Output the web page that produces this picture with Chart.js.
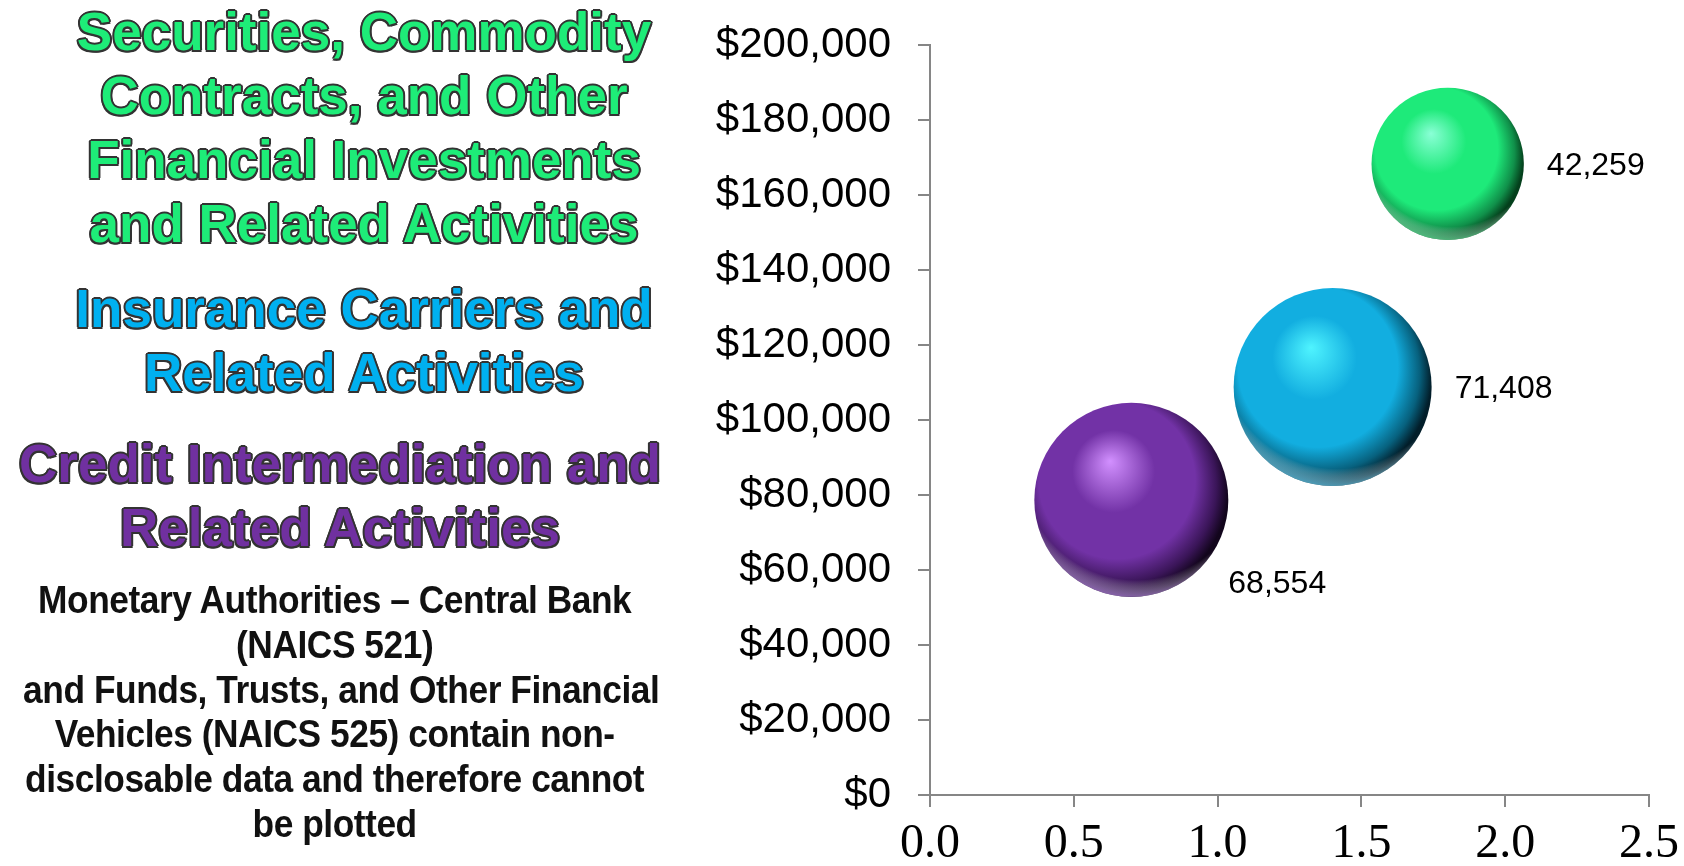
<!DOCTYPE html>
<html>
<head>
<meta charset="utf-8">
<script src="https://cdn.jsdelivr.net/npm/chart.js@4"></script>
<style>
    html, body { margin: 0; padding: 0; background: #fff; }
    body { width: 1684px; height: 866px; position: relative; overflow: hidden; }
    #chartWrap { position: absolute; left: 0; top: 0; width: 1684px; height: 866px; }
    .title {
        position: absolute;
        text-align: center;
        font-family: "Liberation Sans", Arial, sans-serif;
        font-weight: bold;
        font-size: 53px;
        line-height: 64px;
        white-space: nowrap;
        text-shadow: -2px 0 #333, 2px 0 #333, 0 -2px #333, 0 2px #333,
                     -1.5px -1.5px #333, 1.5px -1.5px #333, -1.5px 1.5px #333, 1.5px 1.5px #333;
    }
    .note {
        position: absolute;
        left: 0;
        width: 670px;
        top: 578px;
        text-align: center;
        font-family: "Liberation Sans", Arial, sans-serif;
        font-weight: bold;
        font-size: 38px;
        line-height: 44.8px;
        letter-spacing: -0.5px;
        color: #111;
        white-space: nowrap;
        transform: scaleX(0.93);
        transform-origin: 330px 0;
    }
</style>
</head>
<body>
<div id="chartWrap"><canvas id="bubbleChart"></canvas></div>

<div class="title" style="left:14px; width:700px; top:0px; color:#1eec78;">Securities, Commodity<br>Contracts, and Other<br>Financial Investments<br>and Related Activities</div>
<div class="title" style="left:14px; width:700px; top:277px; color:#00b0f0;">Insurance Carriers and<br>Related Activities</div>
<div class="title" style="left:0px; width:680px; top:432px; color:#7030a0;">Credit Intermediation and<br>Related Activities</div>
<div class="note">Monetary Authorities – Central Bank<br>(NAICS 521)<br>and Funds, Trusts, and Other Financial<br>Vehicles (NAICS 525) contain non-<br>disclosable data and therefore cannot<br>be plotted</div>

<script>
// industries, in drawing order
const industries = ['Credit Intermediation and Related Activities', 'Insurance Carriers and Related Activities', 'Securities, Commodity Contracts, and Other Financial Investments and Related Activities'];
const xValues = [0.70, 1.40, 1.80];
const wageValues = [78700, 108800, 168300];
const employment = [68554, 71408, 42259];
const yTicks = [0, 20000, 40000, 60000, 80000, 100000, 120000, 140000, 160000, 180000, 200000];
const xTicks = [0.0, 0.5, 1.0, 1.5, 2.0, 2.5];

// sphere shading per industry: highlight, base, dark, edge, rim
const shades = [
    ['#d290ff', '#7232a6', '#3a1558', '#12051c', 'rgba(170,110,230,0.85)'],
    ['#4ff4ff', '#12aee0', '#07617e', '#021e2a', 'rgba(70,200,245,0.85)'],
    ['#8affd6', '#1eea7a', '#10904a', '#04401c', 'rgba(80,245,150,0.8)']
];
const labelPlace = ['belowRight', 'right', 'right'];

const maxBubble = 99;
const maxEmp = Math.max.apply(null, employment);

function radiusFor(v) {
    return maxBubble * Math.sqrt(v / maxEmp);
}

function sphereFill(context) {
    const chart = context.chart;
    const i = context.dataIndex;
    if (!chart.chartArea || i === undefined) {
        return shades[i || 0][1];
    }
    const cx = chart.scales.x.getPixelForValue(xValues[i]);
    const cy = chart.scales.y.getPixelForValue(wageValues[i]);
    const r = radiusFor(employment[i]);
    const s = shades[i];
    const g = chart.ctx.createRadialGradient(cx - 0.22 * r, cy - 0.4 * r, 0, cx - 0.12 * r, cy - 0.12 * r, 1.12 * r);
    g.addColorStop(0, s[0]);
    g.addColorStop(0.38, s[1]);
    g.addColorStop(0.72, s[1]);
    g.addColorStop(0.9, s[2]);
    g.addColorStop(1, s[3]);
    return g;
}

// soft light along the lower rim, then the value labels
const sphereExtras = {
    id: 'sphereExtras',
    afterDatasetsDraw(chart) {
        const ctx = chart.ctx;
        const meta = chart.getDatasetMeta(0);
        meta.data.forEach(function (el, i) {
            const r = el.options.radius;
            const g = ctx.createRadialGradient(el.x + 0.05 * r, el.y - 0.35 * r, 0.9 * r, el.x + 0.05 * r, el.y - 0.35 * r, 1.4 * r);
            g.addColorStop(0, 'rgba(255,255,255,0)');
            g.addColorStop(0.55, 'rgba(255,255,255,0)');
            g.addColorStop(1, shades[i][4]);
            ctx.save();
            ctx.beginPath();
            ctx.arc(el.x, el.y, r, 0, Math.PI * 2);
            ctx.clip();
            ctx.fillStyle = g;
            ctx.fillRect(el.x - r, el.y - r, 2 * r, 2 * r);
            ctx.restore();

            ctx.save();
            ctx.fillStyle = '#000';
            ctx.font = '32px "Liberation Sans", Arial, sans-serif';
            ctx.textAlign = 'left';
            ctx.textBaseline = 'middle';
            const txt = employment[i].toLocaleString('en-US');
            if (labelPlace[i] === 'belowRight') {
                ctx.fillText(txt, el.x + r, el.y + 0.87 * r);
            } else {
                ctx.fillText(txt, el.x + r + 23, el.y + 2);
            }
            ctx.restore();
        });
    }
};

const axisGrey = '#868686';

new Chart(document.getElementById('bubbleChart'), {
    type: 'bubble',
    data: {
        datasets: [{
            label: 'Employment',
            data: xValues.map(function (x, i) {
                return { x: x, y: wageValues[i], r: radiusFor(employment[i]) };
            }),
            backgroundColor: sphereFill,
            borderWidth: 0
        }]
    },
    options: {
        responsive: true,
        maintainAspectRatio: false,
        animation: false,
        events: [],
        layout: {
            autoPadding: false,
            padding: { top: 45, right: 35, left: 0, bottom: 0 }
        },
        plugins: {
            legend: { display: false },
            tooltip: { enabled: false }
        },
        scales: {
            x: {
                type: 'linear',
                min: 0,
                max: 2.5,
                afterBuildTicks: function (scale) {
                    scale.ticks = xTicks.map(function (v) { return { value: v }; });
                },
                afterFit: function (scale) {
                    scale.height = 71;
                    scale.paddingLeft = 0;
                    scale.paddingRight = 0;
                },
                border: { color: axisGrey, width: 2 },
                grid: { drawOnChartArea: false, color: axisGrey, lineWidth: 2, tickLength: 12 },
                ticks: {
                    padding: 9,
                    color: '#000',
                    font: { family: '"Liberation Serif", "Times New Roman", serif', size: 48 },
                    callback: function (v) { return Number(v).toFixed(1); }
                }
            },
            y: {
                type: 'linear',
                min: 0,
                max: 200000,
                afterBuildTicks: function (scale) {
                    scale.ticks = yTicks.map(function (v) { return { value: v }; });
                },
                afterFit: function (scale) {
                    scale.width = 930;
                    scale.paddingTop = 0;
                    scale.paddingBottom = 0;
                },
                border: { color: axisGrey, width: 2 },
                grid: { drawOnChartArea: false, color: axisGrey, lineWidth: 2, tickLength: 12 },
                ticks: {
                    padding: 27,
                    color: '#000',
                    font: { family: '"Liberation Sans", Arial, sans-serif', size: 42 },
                    callback: function (v) { return '$' + Number(v).toLocaleString('en-US'); }
                }
            }
        }
    },
    plugins: [sphereExtras]
});
</script>
</body>
</html>
